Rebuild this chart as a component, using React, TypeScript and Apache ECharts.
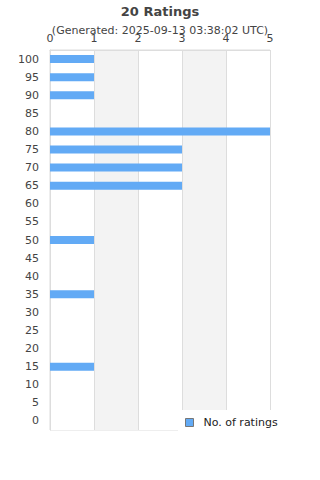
import React, { useEffect, useRef } from "react";
import * as echarts from "echarts";

const categories = ["0","5","10","15","20","25","30","35","40","45","50","55","60","65","70","75","80","85","90","95","100"];
const ratingCounts = [0,0,0,1,0,0,0,1,0,0,1,0,0,3,3,3,5,0,1,1,1];
const titleText = "20 Ratings";
const subtitleText = "(Generated: 2025-09-13 03:38:02 UTC)";
const seriesName = "No. of ratings";

export default function App() {
  const ref = useRef<HTMLDivElement>(null);
  useEffect(() => {
    document.body.style.margin = "0";
    const chart = echarts.init(ref.current!, null, { renderer: "svg" });
    const font = "DejaVu Sans";
    chart.setOption({
      animation: false,
      textStyle: { fontFamily: font },
      title: {
        text: titleText,
        subtext: subtitleText,
        left: "center",
        top: 0,
        itemGap: 7,
        textStyle: { fontSize: 13, fontWeight: "bold", color: "#444", fontFamily: font },
        subtextStyle: { fontSize: 11, color: "#444", fontFamily: font },
      },
      grid: {
        left: 50, right: 50, top: 50, bottom: 50,
        show: true, borderColor: "#ddd", borderWidth: 1,
      },
      xAxis: {
        type: "value",
        position: "top",
        min: 0, max: 5, interval: 1,
        axisLine: { show: true, lineStyle: { color: "#ddd" } },
        axisTick: { show: false },
        axisLabel: { color: "#444", fontSize: 11, margin: 6, fontFamily: font },
        splitLine: { show: true, lineStyle: { color: "#ddd" } },
        splitArea: { show: true, areaStyle: { color: ["#ffffff", "#f3f3f3"] } },
      },
      yAxis: {
        type: "category",
        data: categories,
        axisLine: { show: true, lineStyle: { color: "#ddd" } },
        axisTick: { show: false },
        axisLabel: { color: "#444", fontSize: 11, margin: 11, fontFamily: font },
      },
      legend: {
        data: [{ name: seriesName, itemStyle: { borderColor: "#777", borderWidth: 1 } }],
        left: 178, top: 410,
        padding: [7, 40, 10, 7],
        backgroundColor: "#fff",
        itemWidth: 8, itemHeight: 8,
        icon: "rect",
        textStyle: { color: "#222", fontSize: 11, fontFamily: font, padding: [0, 0, 0, 5] },
      },
      series: [{
        name: seriesName,
        type: "bar",
        data: ratingCounts,
        barWidth: 8,
        itemStyle: { color: "#62aaf5" },
      }],
    });
    return () => chart.dispose();
  }, []);
  return <div ref={ref} style={{ width: 320, height: 480 }} />;
}
